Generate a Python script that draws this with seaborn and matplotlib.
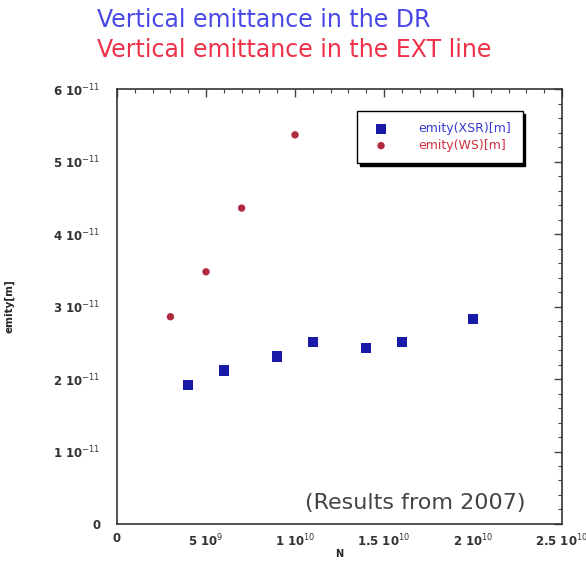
import numpy as np
import pandas as pd
import matplotlib
matplotlib.use("Agg")
import matplotlib.pyplot as plt
import matplotlib.ticker as mticker
import seaborn as sns

# Damping ring (XSR) vertical emittance vs bunch population
n_dr = [4e9, 6e9, 9e9, 1.1e10, 1.4e10, 1.6e10, 2.0e10]
emit_dr = [1.92e-11, 2.12e-11, 2.31e-11, 2.51e-11, 2.43e-11, 2.51e-11, 2.83e-11]

# Extraction line (wire scanner) vertical emittance
n_ext = [3e9, 5e9, 7e9, 1.0e10]
emit_ext = [2.86e-11, 3.48e-11, 4.36e-11, 5.37e-11]

x_ticks = [0, 5e9, 1e10, 1.5e10, 2e10, 2.5e10]
x_tick_labels = ["0", r"5 10$^{9}$", r"1 10$^{10}$", r"1.5 10$^{10}$", r"2 10$^{10}$", r"2.5 10$^{10}$"]
y_ticks = [0, 1e-11, 2e-11, 3e-11, 4e-11, 5e-11, 6e-11]
y_tick_labels = ["0"] + [rf"{k} 10$^{{-11}}$" for k in range(1, 7)]

legend_dr = "emity(XSR)[m]"
legend_ext = "emity(WS)[m]"

sns.set_style("white")
plt.rcParams["font.family"] = ["DejaVu Sans"]

fig = plt.figure(figsize=(5.86, 5.61), dpi=100)
ax = fig.add_axes([0.1997, 0.066, 0.7593, 0.775])

df_dr = pd.DataFrame({"N": n_dr, "emit": emit_dr})
df_ext = pd.DataFrame({"N": n_ext, "emit": emit_ext})

sns.scatterplot(data=df_dr, x="N", y="emit", ax=ax, marker="s", s=55,
                color="#1a1aa8", edgecolor="none", label=legend_dr)
sns.scatterplot(data=df_ext, x="N", y="emit", ax=ax, marker="o", s=28,
                color="#b02a3e", edgecolor="none", label=legend_ext)

ax.set_xlim(0, 2.5e10)
ax.set_ylim(0, 6e-11)
ax.set_xticks(x_ticks)
ax.set_xticklabels(x_tick_labels, fontsize=8.5, fontweight="bold", color="#333333")
ax.set_yticks(y_ticks)
ax.set_yticklabels(y_tick_labels, fontsize=8.5, fontweight="bold", color="#333333")
ax.xaxis.set_minor_locator(mticker.AutoMinorLocator(5))
ax.yaxis.set_minor_locator(mticker.AutoMinorLocator(5))
ax.tick_params(which="both", direction="in", top=True, right=True, color="#444444")
ax.tick_params(which="major", length=6, width=1)
ax.tick_params(axis="x", which="major", pad=6)
ax.tick_params(axis="y", which="major", pad=12)
ax.tick_params(which="minor", length=3, width=0.8)
for sp in ax.spines.values():
    sp.set_color("#333333")
    sp.set_linewidth(1.2)

ax.set_xlabel("N", fontsize=7, fontweight="bold", labelpad=0)
ax.set_ylabel("emity[m]", fontsize=7.5, fontweight="bold", labelpad=28)

leg = ax.legend(loc="upper left", bbox_to_anchor=(0.54, 0.95), frameon=True,
                fancybox=False, shadow={"color": "black", "alpha": 1.0},
                fontsize=9, handletextpad=2.0, borderpad=0.9, labelspacing=0.3,
                borderaxespad=0)
leg.get_frame().set_edgecolor("black")
leg.get_frame().set_linewidth(1.0)
for txt, c in zip(leg.get_texts(), ["#3a3ad0", "#d03040"]):
    txt.set_color(c)

ax.text(0.918, 0.025, "(Results from 2007)", transform=ax.transAxes,
        ha="right", va="bottom", fontsize=16, color="#444444")

fig.text(0.166, 0.965, "Vertical emittance in the DR", ha="left", va="center",
         fontsize=17, color="#4848e8")
fig.text(0.166, 0.91, "Vertical emittance in the EXT line", ha="left", va="center",
         fontsize=17, color="#ee3048")

fig.savefig("out.png", dpi=100)
